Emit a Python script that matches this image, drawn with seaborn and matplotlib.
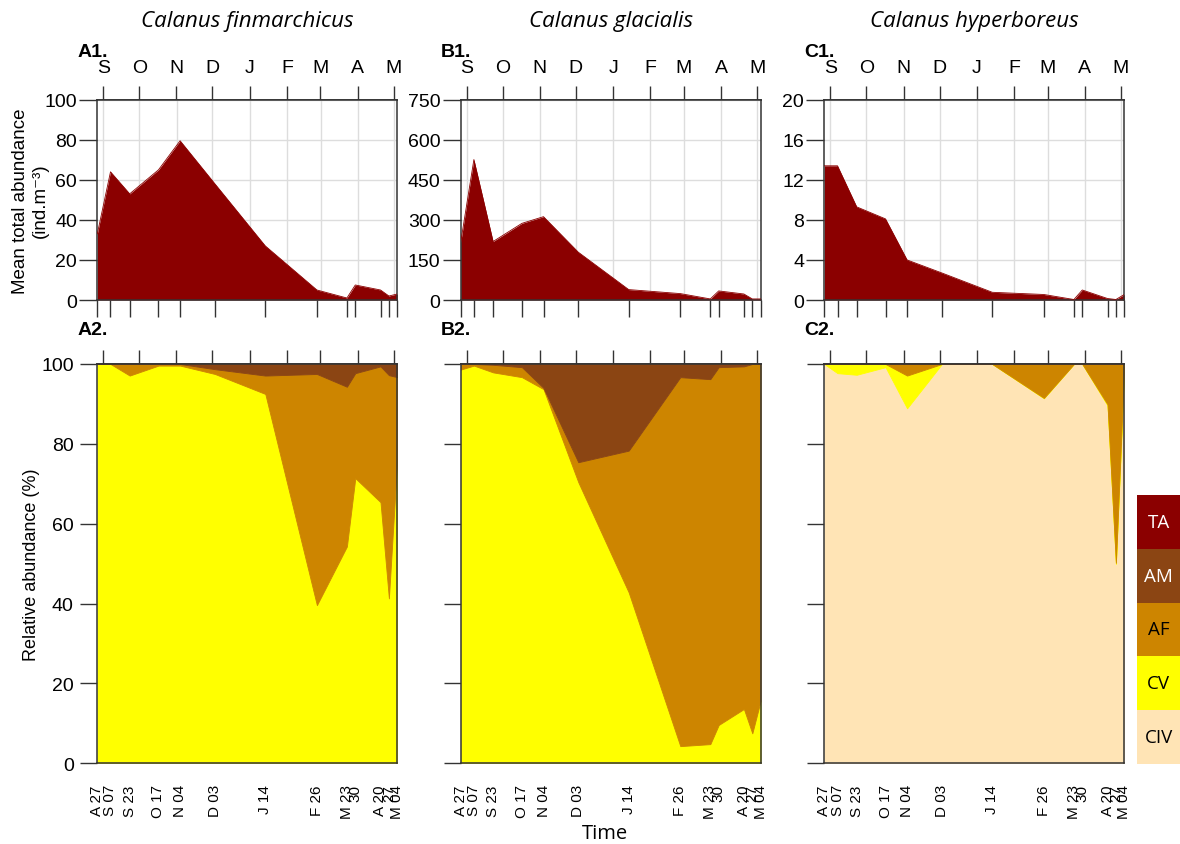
import numpy as np
import pandas as pd
import matplotlib
matplotlib.use("Agg")
import matplotlib.pyplot as plt
import seaborn as sns
from matplotlib.patches import Rectangle

# ---------------- data ----------------
sample_dates = ["2018-08-27", "2018-09-07", "2018-09-23", "2018-10-17", "2018-11-04",
                "2018-12-03", "2019-01-14", "2019-02-26", "2019-03-23", "2019-03-30",
                "2019-04-20", "2019-04-27", "2019-05-04"]
date_labels = ["A 27", "S 07", "S 23", "O 17", "N 04", "D 03", "J 14", "F 26",
               "M 23", "30", "A 20", "27", "M 04"]
month_starts = ["2018-09-01", "2018-10-01", "2018-11-01", "2018-12-01", "2019-01-01",
                "2019-02-01", "2019-03-01", "2019-04-01", "2019-05-01"]
month_labels = ["S", "O", "N", "D", "J", "F", "M", "A", "M"]

species = ["Calanus finmarchicus", "Calanus glacialis", "Calanus hyperboreus"]
top_tags = ["A1.", "B1.", "C1."]
bot_tags = ["A2.", "B2.", "C2."]

# mean total abundance (ind.m-3)
total_fin = [33, 64, 53, 65, 79.5, 58, 27, 5, 1, 7.5, 5, 2, 3]
total_gla = [216, 526, 219, 287, 312, 179, 39, 24, 4, 34, 22.5, 4, 4]
total_hyp = [13.4, 13.4, 9.3, 8.1, 4.0, 2.7, 0.77, 0.55, 0.05, 1.0, 0.15, 0.05, 0.55]
total_ymax = [100, 750, 20]
total_ystep = [20, 150, 4]

# relative abundance (%) per stage
civ_fin = [0, 0, 0, 0, 0, 0, 0, 0, 0, 0, 0, 0, 0]
cv_fin = [100, 100, 97.1, 99.6, 99.6, 97.5, 92.5, 39.6, 54.3, 71.4, 65.4, 41.3, 76.2]
af_fin = [0, 0, 2.9, 0.4, 0.4, 1.2, 4.6, 57.9, 40.0, 26.3, 34.0, 55.9, 20.5]
am_fin = [0, 0, 0, 0, 0, 1.3, 2.9, 2.5, 5.7, 2.3, 0.6, 2.8, 3.3]

civ_gla = [0, 0, 0, 0, 0, 0, 0, 0, 0, 0, 0, 0, 0]
cv_gla = [98.6, 99.6, 97.9, 96.7, 93.7, 70.4, 42.8, 4.3, 4.8, 9.6, 13.6, 7.5, 15.7]
af_gla = [1.4, 0.4, 1.9, 2.5, 0.3, 5.0, 35.5, 92.4, 91.4, 89.6, 85.8, 92.5, 84.3]
am_gla = [0, 0, 0.2, 0.8, 6.0, 24.6, 21.7, 3.3, 3.8, 0.8, 0.6, 0, 0]

civ_hyp = [100, 97.7, 97.3, 99.2, 88.9, 100, 100, 91.4, 100, 100, 89.6, 49.9, 98]
cv_hyp = [0, 2.3, 2.7, 0.8, 8.2, 0, 0, 0.1, 0, 0, 0.3, 0.3, 2]
af_hyp = [0, 0, 0, 0, 2.9, 0, 0, 8.5, 0, 0, 10.1, 49.8, 0]
am_hyp = [0, 0, 0, 0, 0, 0, 0, 0, 0, 0, 0, 0, 0]

legend_labels = ["TA", "AM", "AF", "CV", "CIV"]
legend_colors = ["#8B0000", "#8B4513", "#CD8500", "#FFFF00", "#FFE4B5"]
legend_text_colors = ["white", "white", "black", "black", "black"]

totals = [total_fin, total_gla, total_hyp]
stages = [[civ_fin, cv_fin, af_fin, am_fin],
          [civ_gla, cv_gla, af_gla, am_gla],
          [civ_hyp, cv_hyp, af_hyp, am_hyp]]
stage_colors = ["#FFE4B5", "#FFFF00", "#CD8500", "#8B4513"]
TA_COLOR = "#8B0000"

# ---------------- style ----------------
sns.set_theme(style="white")
plt.rcParams['font.family'] = ['Liberation Sans', 'DejaVu Sans']
plt.rcParams['text.color'] = 'black'
plt.rcParams['axes.labelcolor'] = 'black'
plt.rcParams['xtick.color'] = 'black'
plt.rcParams['ytick.color'] = 'black'
SPINE = "#333333"

t0 = pd.Timestamp(sample_dates[0])
x_days = np.array([(pd.Timestamp(d) - t0).days for d in sample_dates], dtype=float)
month_days = np.array([(pd.Timestamp(d) - t0).days for d in month_starts], dtype=float)

W, H = 1180, 845
fig = plt.figure(figsize=(W / 100, H / 100), dpi=100)


def fx(px):
    return px / W


def fy(py):
    return 1 - py / H


lefts = [97.3, 460.7, 824.3]
pw = 300
top_y0, top_y1 = 100.7, 301
bot_y0, bot_y1 = 365, 764.3


def style_spines(ax):
    for s in ax.spines.values():
        s.set_visible(True)
        s.set_color(SPINE)
        s.set_linewidth(1.1)


for i in range(3):
    # ---------- top: total abundance ----------
    ax1 = fig.add_axes([fx(lefts[i]), fy(top_y1), pw / W, (top_y1 - top_y0) / H])
    df = pd.DataFrame({"day": x_days, "total": totals[i]})
    ax1.fill_between(df["day"], 0, df["total"], color=TA_COLOR, lw=0, zorder=2)
    sns.lineplot(data=df, x="day", y="total", ax=ax1, color=TA_COLOR, lw=0.6, zorder=3)
    ax1.set_xlabel("")
    ax1.set_ylabel("")
    ax1.set_xlim(x_days[0], x_days[-1])
    ax1.set_ylim(0, total_ymax[i])
    ax1.set_yticks(np.arange(0, total_ymax[i] + 1e-9, total_ystep[i]))
    ax1.set_xticks(x_days)
    ax1.set_xticklabels([])
    ax1.set_xticks(month_days, minor=True)
    ax1.tick_params(axis='x', which='minor', length=0)
    ax1.tick_params(axis='x', which='major', direction='out', length=12, width=1, color=SPINE)
    ax1.tick_params(axis='y', which='major', direction='out', length=13, width=1, color=SPINE,
                    labelsize=14, pad=1.5, left=True)
    ax1.grid(True, which='minor', axis='x', color='#dddddd', lw=1)
    ax1.grid(True, which='major', axis='y', color='#dddddd', lw=1)
    ax1.grid(False, which='major', axis='x')
    ax1.set_axisbelow(True)
    style_spines(ax1)
    ax1.xaxis.set_ticks_position('bottom')
    sec = ax1.secondary_xaxis('top')
    sec.set_xticks(month_days)
    sec.set_xticklabels(month_labels)
    sec.tick_params(direction='out', length=10, width=1, color=SPINE, labelsize=14, pad=7)
    sec.spines['top'].set_color(SPINE)

    # ---------- bottom: relative abundance ----------
    ax2 = fig.add_axes([fx(lefts[i]), fy(bot_y1), pw / W, (bot_y1 - bot_y0) / H])
    ax2.stackplot(x_days, *stages[i], colors=stage_colors, lw=0.6,
                  edgecolor='face', zorder=2)
    ax2.set_xlim(x_days[0], x_days[-1])
    ax2.set_ylim(0, 100)
    ax2.set_yticks(np.arange(0, 101, 20))
    if i > 0:
        ax2.set_yticklabels([])
    ax2.set_xticks(x_days)
    ax2.set_xticklabels(date_labels, rotation=90, fontsize=11)
    ax2.tick_params(axis='x', direction='out', length=12, width=1, color=SPINE, pad=3)
    ax2.tick_params(axis='y', direction='out', length=12, width=1, color=SPINE,
                    labelsize=14, pad=5, left=True)
    ax2.grid(False)
    style_spines(ax2)
    sec2 = ax2.secondary_xaxis('top')
    sec2.set_xticks(month_days)
    sec2.set_xticklabels([])
    sec2.tick_params(direction='out', length=10, width=1, color=SPINE)
    sec2.spines['top'].set_color(SPINE)

    # ---------- labels ----------
    fig.text(fx(lefts[i] + pw / 2), fy(22), species[i], ha='center', va='center',
             fontsize=16, style='italic', family=['Open Sans', 'DejaVu Sans'])
    fig.text(fx(lefts[i] - 20), fy(52.5), top_tags[i], ha='left', va='center',
             fontsize=14, fontweight='bold')
    fig.text(fx(lefts[i] - 20), fy(331), bot_tags[i], ha='left', va='center',
             fontsize=14, fontweight='bold')

fig.text(fx(30.5), fy((top_y0 + top_y1) / 2), "Mean total abundance\n(ind.m\u207b\u00b3)",
         rotation=90, ha='center', va='center', fontsize=13.5, linespacing=1.25)
fig.text(fx(32), fy((bot_y0 + bot_y1) / 2), "Relative abundance (%)",
         rotation=90, ha='center', va='center', fontsize=13)
fig.text(fx(605), fy(834), "Time", ha='center', va='center', fontsize=14.5,
         family=['Open Sans', 'DejaVu Sans'])

# ---------- legend ----------
lax = fig.add_axes([fx(1137), fy(765), 43 / W, 269 / H])
lax.set_xlim(0, 1)
lax.set_ylim(0, len(legend_labels))
n = len(legend_labels)
for k, (lab, col, tc) in enumerate(zip(legend_labels, legend_colors, legend_text_colors)):
    lax.add_patch(Rectangle((0, n - 1 - k), 1, 1, facecolor=col, edgecolor='none'))
    lax.text(0.5, n - 0.5 - k, lab, ha='center', va='center', color=tc, fontsize=13.5,
             family=['Open Sans', 'DejaVu Sans'])
lax.axis('off')

fig.savefig("out.png", dpi=100)
